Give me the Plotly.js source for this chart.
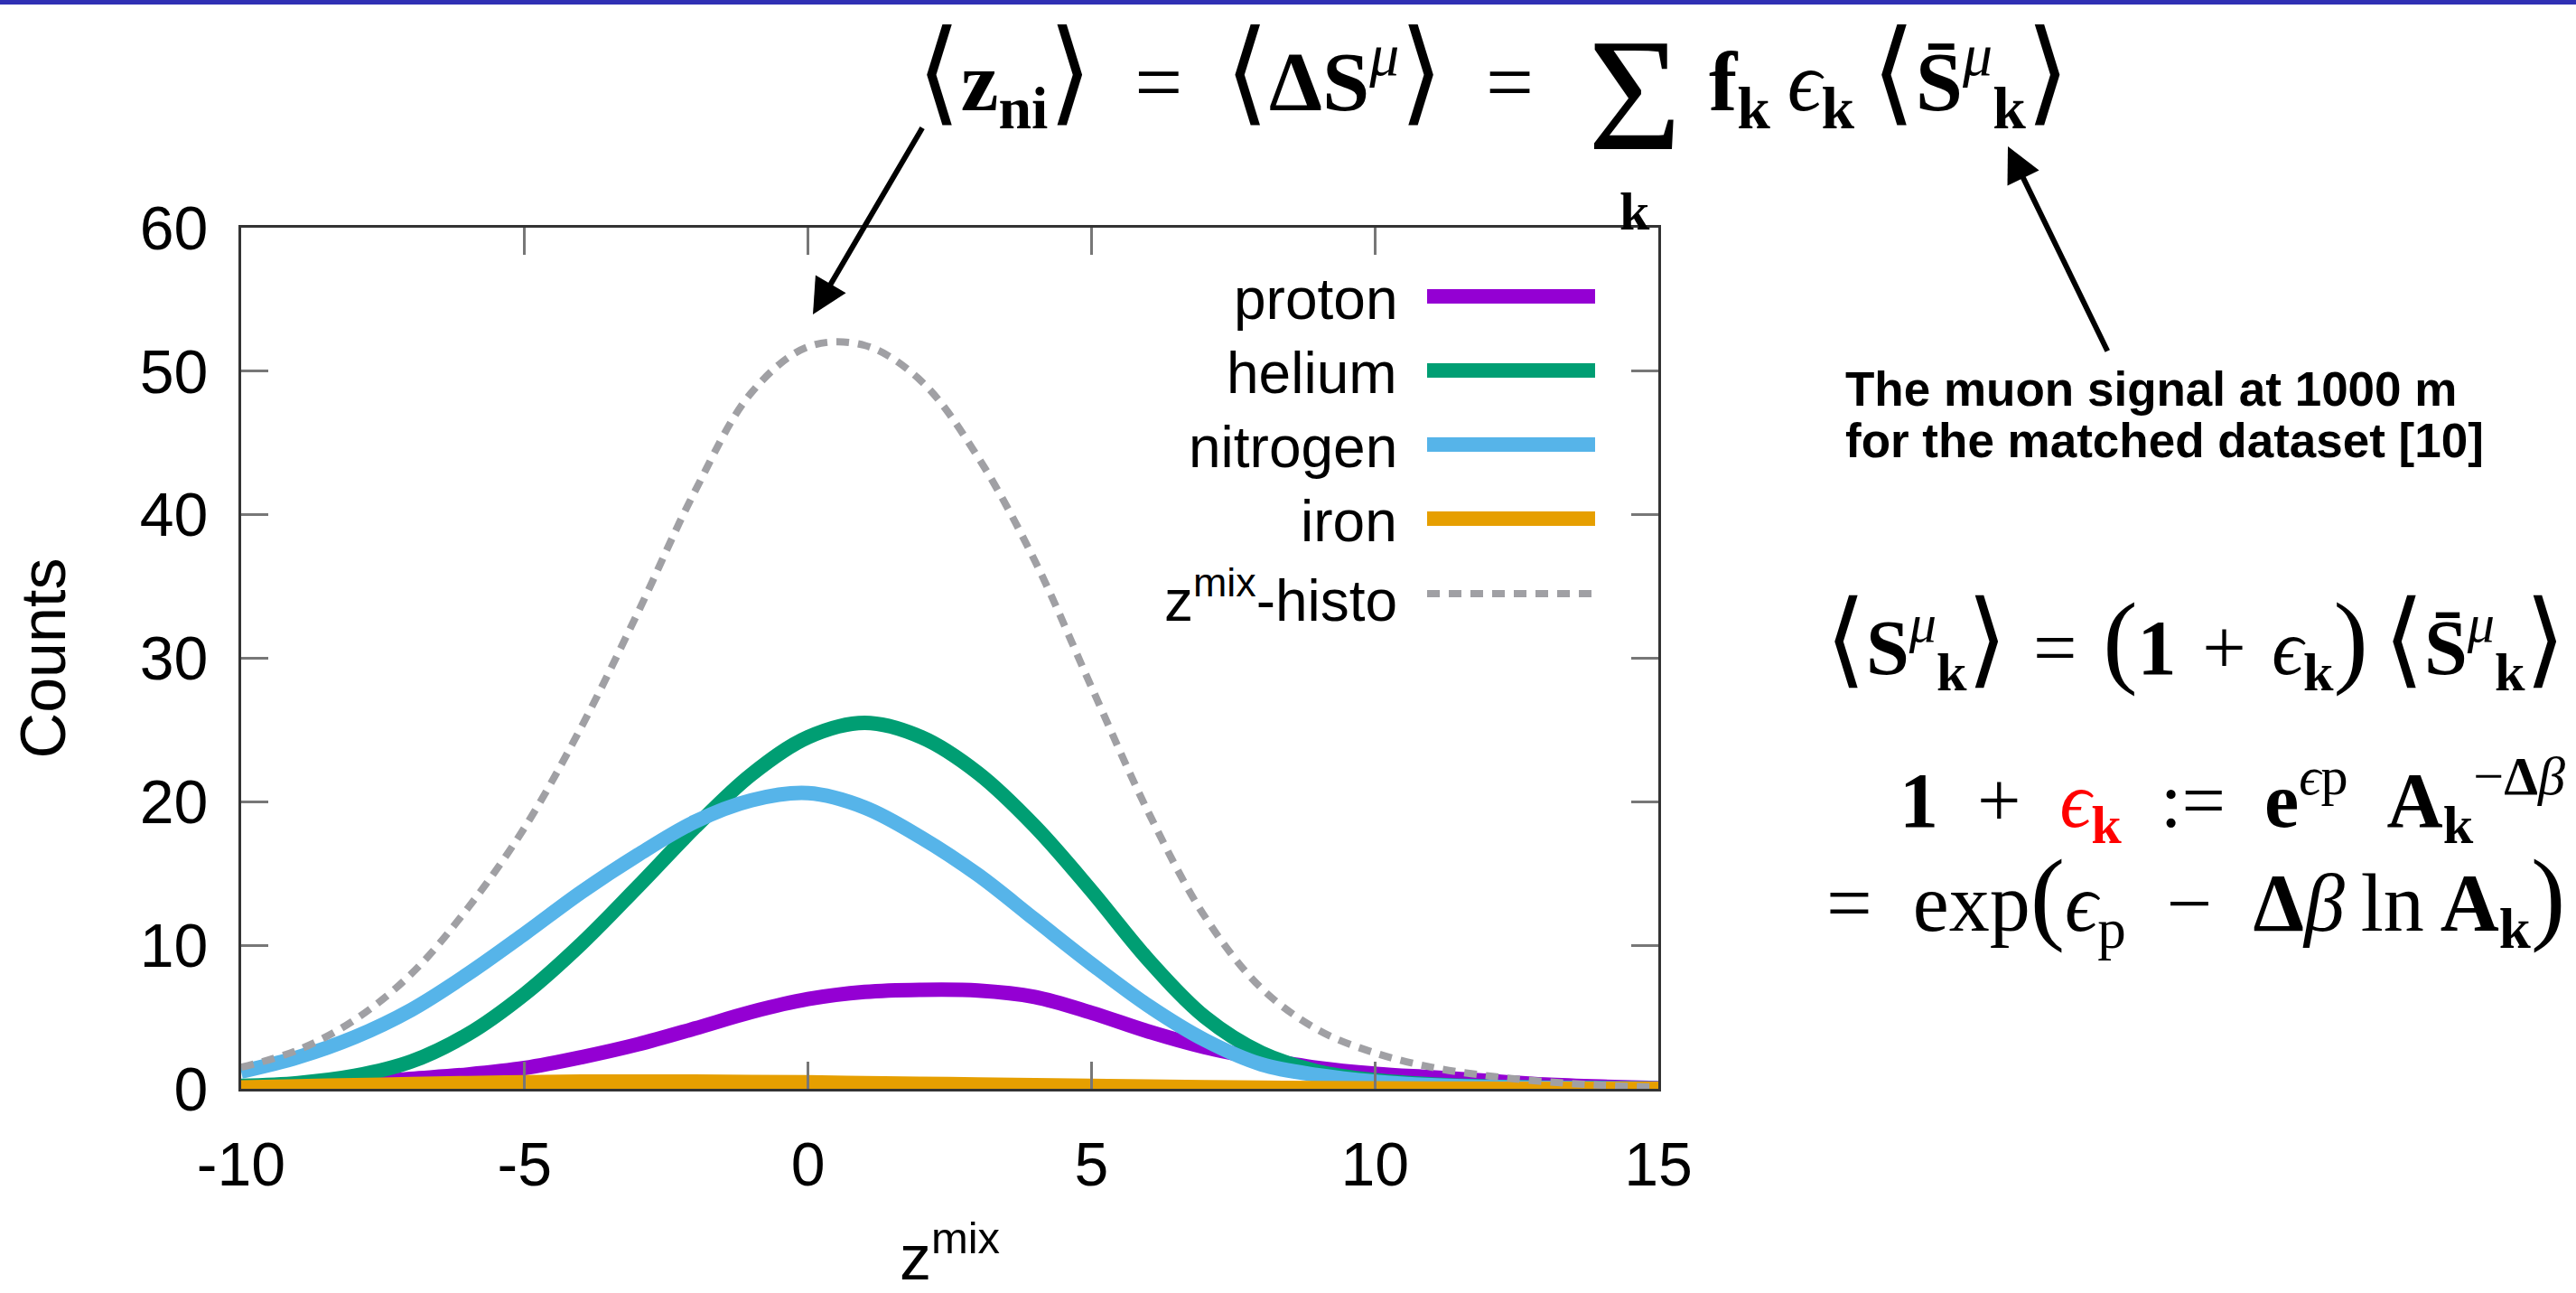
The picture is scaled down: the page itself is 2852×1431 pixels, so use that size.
<!DOCTYPE html>
<html><head><meta charset="utf-8">
<script src="https://cdn.plot.ly/plotly-3.0.1.min.js"></script>
<style>html,body{margin:0;padding:0;background:#fff;overflow:hidden;}</style>
</head><body>
<div id="chart" style="width:2852px;height:1431px;"></div>
<script>
// ---- data ----
const zmix     = [-10, -9, -8, -7, -6, -5, -4, -3, -2, -1, 0, 1, 2, 3, 4, 5, 6, 7, 8, 9, 10, 11, 12, 13, 14, 15];
const proton   = [0.1, 0.2, 0.4, 0.7, 1.0, 1.45, 2.2, 3.1, 4.2, 5.35, 6.25, 6.75, 6.9, 6.85, 6.4, 5.3, 4.0, 2.9, 2.1, 1.45, 1.05, 0.8, 0.55, 0.3, 0.15, 0.05];
const helium   = [0.2, 0.4, 0.9, 1.9, 3.8, 6.6, 10.1, 14.1, 18.2, 21.9, 24.5, 25.5, 24.5, 22.0, 18.3, 13.8, 9.0, 5.0, 2.5, 1.2, 0.6, 0.3, 0.15, 0.08, 0.04, 0.02];
const nitrogen = [1.2, 2.2, 3.6, 5.5, 8.0, 10.8, 13.7, 16.3, 18.6, 20.1, 20.6, 19.6, 17.5, 14.9, 11.8, 8.7, 5.8, 3.4, 1.7, 0.95, 0.5, 0.25, 0.12, 0.06, 0.03, 0.02];
const iron     = [0.1, 0.18, 0.25, 0.33, 0.4, 0.45, 0.5, 0.5, 0.5, 0.48, 0.45, 0.4, 0.35, 0.3, 0.25, 0.2, 0.15, 0.11, 0.08, 0.05, 0.03, 0.02, 0.01, 0.0, 0.0, 0.0];
const histo    = [1.5, 2.7, 4.8, 8.0, 12.6, 18.2, 25.2, 33.2, 41.6, 48.5, 51.7, 51.8, 49.3, 44.0, 36.8, 28.0, 19.3, 12.0, 7.0, 4.1, 2.5, 1.5, 0.9, 0.5, 0.25, 0.1];
const seriesNames = ["proton", "helium", "nitrogen", "iron", "z<sup>mix</sup>-histo"];
const xTicks = [-10, -5, 0, 5, 10, 15];
const yTicks = [0, 10, 20, 30, 40, 50, 60];

// ---- layout geometry (pixels) ----
const W = 2852, H = 1431, L = 267, R = 1836, T = 252, B = 1205;
const px = v => (v - L) / (R - L);
const py = v => (B - v) / (B - T);

const colors = ["#9400D3", "#009E73", "#56B4E9", "#E69F00", "#A0A0A4"];
const allY = [proton, helium, nitrogen, iron, histo];

const traces = allY.map((ys, i) => ({
  x: zmix, y: ys, type: "scatter", mode: "lines", name: seriesNames[i],
  showlegend: false,
  line: { color: colors[i], width: i === 4 ? 8 : 16, shape: "spline", smoothing: 1, dash: i === 4 ? "14px,10px" : "solid" },
  cliponaxis: false
}));

const serif = "Liberation Serif, DejaVu Serif, serif";
const sans = "Liberation Sans, Arial, sans-serif";
const sp = "\u2002";   // en space
const sp3 = "\u2004";  // three-per-em space
const th = "\u2009";   // thin space

const shapes = [
  { type: "rect", xref: "paper", yref: "paper", x0: px(0), x1: px(W), y0: py(0), y1: py(5), fillcolor: "#3030B4", line: { width: 0 }, layer: "above" }
];
const annotations = [];

// legend (text left of the sample line, right-aligned)
const legY = [328, 410, 492, 574, 657];
seriesNames.forEach((n, i) => {
  annotations.push({ xref: "paper", yref: "paper", x: px(1549), y: py(legY[i] + 3), xanchor: "right", yanchor: "middle",
    text: n, showarrow: false, font: { family: sans, size: 64, color: "#000" } });
  shapes.push({ type: "line", xref: "paper", yref: "paper", x0: px(1580), x1: px(1766), y0: py(legY[i]), y1: py(legY[i]),
    line: { color: colors[i], width: i === 4 ? 8 : 16, dash: i === 4 ? "14px,10px" : "solid" } });
});

const big = s => "<span style='font-size:125px'>" + s + "</span>";
// top equation
annotations.push({ xref: "paper", yref: "paper", x: px(1013), y: py(84), xanchor: "left", yanchor: "middle", showarrow: false,
  text: big("⟨") + "<b>z</b><sub><b>ni</b></sub>" + big("⟩") + sp + "=" + sp + big("⟨") + "<b>ΔS</b><sup><i>μ</i></sup>" + big("⟩") + sp + "=",
  font: { family: serif, size: 94, color: "#000" } });
annotations.push({ xref: "paper", yref: "paper", x: px(1810), y: py(105), xanchor: "center", yanchor: "middle", showarrow: false,
  text: "Σ", font: { family: serif, size: 178, color: "#000" } });
annotations.push({ xref: "paper", yref: "paper", x: px(1810), y: py(234), xanchor: "center", yanchor: "middle", showarrow: false,
  text: "<b>k</b>", font: { family: serif, size: 60, color: "#000" } });
annotations.push({ xref: "paper", yref: "paper", x: px(1890), y: py(84), xanchor: "left", yanchor: "middle", showarrow: false,
  text: "<b>f</b><sub><b>k</b></sub>" + th + "<i>ϵ</i><sub><b>k</b></sub>" + th + big("⟨") + "<b>S̄</b><sup><i>μ</i></sup><sub><b>k</b></sub>" + big("⟩"),
  font: { family: serif, size: 94, color: "#000" } });

// arrows
annotations.push({ xref: "paper", yref: "paper", x: px(900), y: py(348), ax: 122, ay: -208, text: "", showarrow: true,
  arrowhead: 2, arrowwidth: 6, arrowsize: 1.3, arrowcolor: "#000", standoff: 0 });
annotations.push({ xref: "paper", yref: "paper", x: px(2223), y: py(162), ax: 111, ay: 228, text: "", showarrow: true,
  arrowhead: 2, arrowwidth: 6, arrowsize: 1.3, arrowcolor: "#000", standoff: 0 });

// muon text
const condensed = "Liberation Sans Narrow, Arial Narrow, Liberation Sans, sans-serif";
annotations.push({ xref: "paper", yref: "paper", x: px(2041), y: py(430), xanchor: "left", yanchor: "middle", showarrow: false,
  text: "<b>The muon signal at 1000 m</b>", font: { family: condensed, size: 53, color: "#000" } });
annotations.push({ xref: "paper", yref: "paper", x: px(2041), y: py(487), xanchor: "left", yanchor: "middle", showarrow: false,
  text: "<b>for the matched dataset [10]</b>", font: { family: condensed, size: 53, color: "#000" } });

// right equations
const bigR = s => "<span style='font-size:115px'>" + s + "</span>";
annotations.push({ xref: "paper", yref: "paper", x: px(2842), y: py(710), xanchor: "right", yanchor: "middle", showarrow: false,
  text: bigR("⟨") + "<b>S</b><sup><i>μ</i></sup><sub><b>k</b></sub>" + bigR("⟩") + sp3 + "=" + sp3 + bigR("(") + "<b>1</b>" + sp3 + "+" + sp3 + "<i>ϵ</i><sub><b>k</b></sub>" + bigR(")") + th + bigR("⟨") + "<b>S̄</b><sup><i>μ</i></sup><sub><b>k</b></sub>" + bigR("⟩"),
  font: { family: serif, size: 86, color: "#000" } });
annotations.push({ xref: "paper", yref: "paper", x: px(2842), y: py(885), xanchor: "right", yanchor: "middle", showarrow: false,
  text: "<b>1</b>" + sp + "+" + sp + "<span style='color:#ff0000'><i>ϵ</i><sub><b>k</b></sub></span>" + sp + ":=" + sp + "<b>e</b><sup><i>ϵ</i>p</sup>" + sp + "<b>A</b><sub><b>k</b></sub><sup>−<b>Δ</b><i>β</i></sup>",
  font: { family: serif, size: 86, color: "#000" } });
annotations.push({ xref: "paper", yref: "paper", x: px(2842), y: py(995), xanchor: "right", yanchor: "middle", showarrow: false,
  text: "=" + sp + "exp" + bigR("(") + "<i>ϵ</i><sub>p</sub>" + sp + "−" + sp + "<b>Δ</b><i>β</i>" + th + "ln" + th + "<b>A</b><sub><b>k</b></sub>" + bigR(")"),
  font: { family: serif, size: 90, color: "#000" } });

const axisCommon = {
  showline: true, linecolor: "#333", linewidth: 3, mirror: "ticks",
  ticks: "inside", ticklen: 30, tickwidth: 3, tickcolor: "#777",
  showgrid: false, zeroline: false,
  tickfont: { family: sans, size: 68, color: "#000" }
};

const layout = {
  width: W, height: H,
  paper_bgcolor: "#fff", plot_bgcolor: "#fff",
  margin: { l: L, r: W - R, t: T, b: H - B, pad: 0 },
  showlegend: false,
  xaxis: Object.assign({}, axisCommon, {
    range: [-10, 15], tickvals: xTicks, ticktext: xTicks.map(String), ticklabelstandoff: 22,
    title: { text: "z<sup>mix</sup>", font: { family: sans, size: 70, color: "#000" }, standoff: 50 }
  }),
  yaxis: Object.assign({}, axisCommon, {
    range: [0, 60], tickvals: yTicks, ticktext: yTicks.map(String), ticklabelstandoff: 20,
    title: { text: "Counts", font: { family: sans, size: 70, color: "#000" }, standoff: 60 }
  }),
  shapes: shapes,
  annotations: annotations
};

Plotly.newPlot("chart", traces, layout, { staticPlot: true, displayModeBar: false });
</script>
</body></html>
